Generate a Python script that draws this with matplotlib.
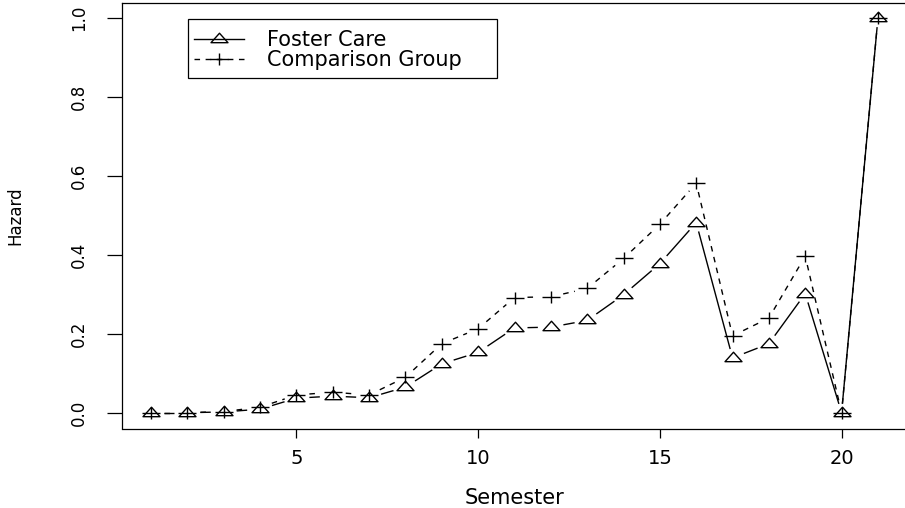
import numpy as np
import matplotlib
matplotlib.use("Agg")
import matplotlib.pyplot as plt
from matplotlib.path import Path
from matplotlib.collections import LineCollection
from matplotlib.lines import Line2D
from matplotlib.patches import Rectangle

# ---------------- data ----------------
semester = list(range(1, 22))
foster_care = [0.0, 0.0, 0.002, 0.009, 0.037, 0.042, 0.038, 0.065, 0.124, 0.153,
               0.215, 0.217, 0.234, 0.299, 0.378, 0.482, 0.139, 0.175, 0.302, 0.0, 1.0]
comparison_group = [0.0, 0.0, 0.003, 0.014, 0.045, 0.052, 0.045, 0.09, 0.175, 0.213,
                    0.292, 0.294, 0.315, 0.391, 0.478, 0.582, 0.195, 0.240, 0.397, 0.0, 1.0]
series_labels = ["Foster Care", "Comparison Group"]
x_ticks = [5, 10, 15, 20]
y_ticks = [0.0, 0.2, 0.4, 0.6, 0.8, 1.0]
y_tick_labels = ["0.0", "0.2", "0.4", "0.6", "0.8", "1.0"]
x_label = "Semester"
y_label = "Hazard"

# ---------------- layout ----------------
plt.rcParams['font.family'] = ['DejaVu Sans']
W, H, DPI = 905, 508, 100
fig = plt.figure(figsize=(W / DPI, H / DPI), dpi=DPI)
L, R, T, B = 122, 907, 2.5, 428.5
ax = fig.add_axes([L / W, 1 - B / H, (R - L) / W, (B - T) / H])
ax.set_xlim(0.2, 21.8)
ax.set_ylim(-0.04, 1.04)

for s in ax.spines.values():
    s.set_linewidth(0.9)
    s.set_color('black')

# markers (R pch 2 / pch 3 as seen in the stretched image)
tri = Path([(0, 6.3), (8.5, -3.2), (-8.5, -3.2), (0, 6.3)],
           [Path.MOVETO, Path.LINETO, Path.LINETO, Path.CLOSEPOLY])
plus = Path([(-9, 0), (9, 0), (0, -6), (0, 6)],
            [Path.MOVETO, Path.LINETO, Path.MOVETO, Path.LINETO])

def gapped_segments(xs, ys, a=13.0, b=9.0):
    pts = ax.transData.transform(np.column_stack([xs, ys]))
    inv = ax.transData.inverted()
    segs = []
    for p0, p1 in zip(pts[:-1], pts[1:]):
        d = p1 - p0
        n = np.hypot(*d)
        if n == 0:
            continue
        u = d / n
        g = 1.0 / np.hypot(u[0] / a, u[1] / b)
        if n > 2 * g:
            segs.append(inv.transform(np.array([p0 + u * g, p1 - u * g])))
    return segs

dash = (0, (4, 4))
ax.add_collection(LineCollection(gapped_segments(semester, foster_care),
                                 colors='black', linewidths=1.0, linestyles='solid'))
ax.add_collection(LineCollection(gapped_segments(semester, comparison_group),
                                 colors='black', linewidths=1.0, linestyles=[dash]))
ax.plot(semester, foster_care, linestyle='none', marker=tri, markersize=12.2,
        markerfacecolor='none', markeredgecolor='black', markeredgewidth=1.0)
ax.plot(semester, comparison_group, linestyle='none', marker=plus, markersize=13,
        markeredgecolor='black', markeredgewidth=1.0)

# ---------------- axes ----------------
ax.set_xticks(x_ticks)
ax.set_xticklabels([str(t) for t in x_ticks])
ax.set_yticks(y_ticks)
ax.set_yticklabels(y_tick_labels)
ax.tick_params(axis='x', length=6.8, width=0.9, pad=8, labelsize=14, colors='black')
ax.tick_params(axis='y', length=10.8, width=0.9, pad=13.5, labelsize=12, colors='black')
for lab in ax.get_yticklabels():
    lab.set_rotation(90)
    lab.set_va('center')

ax.set_xlabel(x_label, fontsize=15, va='center')
ax.xaxis.set_label_coords(0.5, (B - 498) / (B - T))
ax.set_ylabel(y_label, fontsize=12, va='center', ha='center', rotation=90)
ax.yaxis.set_label_coords((15.5 - L) / (R - L), 0.5)

# ---------------- legend ----------------
handles = [
    Line2D([], [], color='black', lw=1.0, linestyle='solid', marker=tri, markersize=12.2,
           markerfacecolor='none', markeredgecolor='black', markeredgewidth=1.0),
    Line2D([], [], color='black', lw=1.0, linestyle=dash, marker=plus, markersize=13,
           markeredgecolor='black', markeredgewidth=1.0),
]
fs = 15
leg = ax.legend(handles, series_labels, loc='upper left', frameon=False, fontsize=fs,
                bbox_to_anchor=((194 - L) / (R - L), (B - 30) / (B - T)),
                borderpad=0, borderaxespad=0, handlelength=50 / (fs * DPI / 72),
                handletextpad=23 / (fs * DPI / 72), labelspacing=0.0,
                numpoints=1)
bx0, bx1, by0, by1 = 188, 497, 19, 78
ax.add_patch(Rectangle(((bx0 - L) / (R - L), (B - by1) / (B - T)),
                       (bx1 - bx0) / (R - L), (by1 - by0) / (B - T),
                       transform=ax.transAxes, fill=False, edgecolor='black',
                       linewidth=0.9, clip_on=False))

fig.savefig("out.png", dpi=DPI)
